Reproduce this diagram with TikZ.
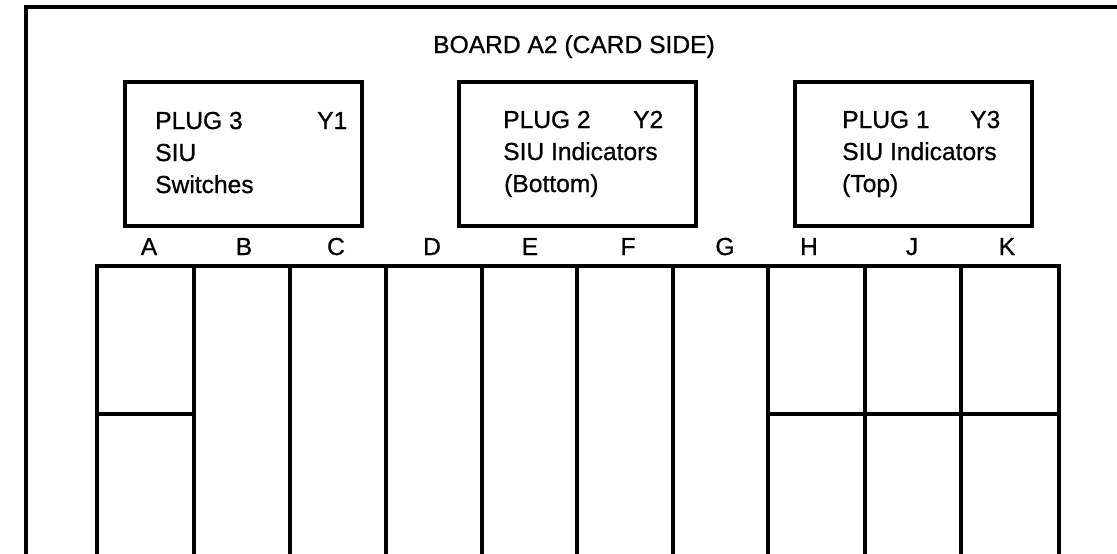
\documentclass[tikz,border=0pt]{standalone}
\usepackage{fontspec}
\setmainfont{Liberation Sans}[FakeBold=0.8]
\begin{document}
\begin{tikzpicture}[x=1pt,y=-1pt,
  line/.style={line width=3.2pt,line cap=rect},
  plugbox/.style={draw,line width=3.2pt,minimum width=237pt,minimum height=144pt,inner sep=0pt},
  txt/.style={font=\fontsize{24.6}{29}\selectfont,inner sep=0pt,anchor=base west},
  col/.style={font=\fontsize{24.6}{29}\selectfont,inner sep=0pt,anchor=base}]
\useasboundingbox (0,0) rectangle (1117,554);
% outer frame (open at right and bottom)
\coordinate (fTL) at (26,7);
\coordinate (fTR) at (1117,7);
\coordinate (fBL) at (26,554);
\draw[line] (fBL) -- (fTL) -- (fTR);
\node[col] (title) at (574,53) {BOARD A2 (CARD SIDE)};
% plug boxes
\node[plugbox] (p3) at (243.5,154) {};
\node[plugbox] (p2) at (577.5,154) {};
\node[plugbox] (p1) at (913.5,154) {};
\node[txt] (p3a) at (155,129) {PLUG 3};
\node[txt] (p3y) at (317,129) {Y1};
\node[txt] (p3b) at (155,161) {SIU};
\node[txt] (p3c) at (155,193) {Switches};
\node[txt] (p2a) at (503,128) {PLUG 2};
\node[txt] (p2y) at (633,128) {Y2};
\node[txt] (p2b) at (503,160) {SIU Indicators};
\node[txt] (p2c) at (504,192) {(Bottom)};
\node[txt] (p1a) at (842,128) {PLUG 1};
\node[txt] (p1y) at (970,128) {Y3};
\node[txt] (p1b) at (842,160) {SIU Indicators};
\node[txt] (p1c) at (842,192) {(Top)};
% column letters
\foreach \l/\x in {A/149,B/244,C/336,D/432,E/530,F/628,G/725,H/809,J/912,K/1007}
  \node[col] (l\l) at (\x,255) {\l};
% card grid
\foreach \i/\x in {0/97,1/194,2/290,3/386,4/482,5/577,6/673,7/768,8/865,9/961,10/1059}{
  \coordinate (t\i) at (\x,266);
  \coordinate (b\i) at (\x,554);
  \coordinate (m\i) at (\x,414);
}
\draw[line] (t0) -- (t10);
\foreach \i in {0,...,10} \draw[line] (t\i) -- (b\i);
\draw[line] (m0) -- (m1);
\draw[line] (m7) -- (m10);
\end{tikzpicture}
\end{document}
